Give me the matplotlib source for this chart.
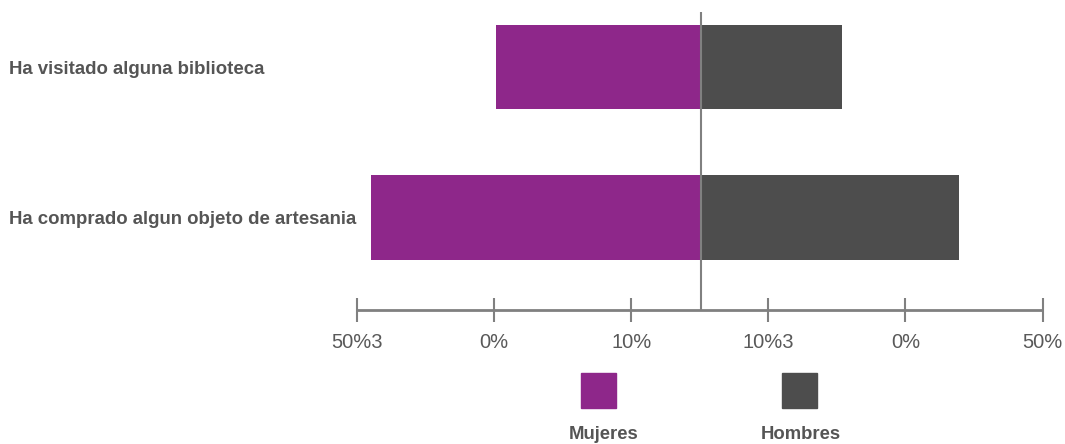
import matplotlib.pyplot as plt
from matplotlib.patches import Rectangle

plt.rcParams['font.family'] = ['Liberation Sans', 'DejaVu Sans']

categorias = ['Ha visitado alguna biblioteca', 'Ha comprado algun objeto de artesania']
mujeres = [29.7, 47.9]
hombres = [20.8, 37.8]
tick_pos = [-50, -30, -10, 10, 30, 50]
tick_labels = ['50%3', '0%', '10%', '10%3', '0%', '50%']
series = ['Mujeres', 'Hombres']
colores = ['#8e278a', '#4d4d4d']

W, H = 1065, 444
fig = plt.figure(figsize=(W / 100, H / 100), dpi=100)

# axes spans full height; x from -50 to 50 maps to px 357..1042.6
ax = fig.add_axes([357 / W, 0, 685.6 / W, 1])
ax.set_xlim(-50, 50)
row0, step = 67, 150.5


def py(p):
    # pixel row -> category units
    return (p - row0) / step


ax.set_ylim(py(H), py(0))

y = list(range(len(categorias)))
ax.barh(y, [-m for m in mujeres], height=84.5 / step, color=colores[0])
ax.barh(y, hombres, height=84.5 / step, color=colores[1])

# center line
ax.vlines(0.2, py(310), py(12), color='#808080', linewidth=1.5, zorder=3)

# bottom axis
ax.hlines(py(310), tick_pos[0], tick_pos[-1], color='#808080', linewidth=2, clip_on=False)
for t, lab in zip(tick_pos, tick_labels):
    ax.vlines(t, py(298), py(322.5), color='#808080', linewidth=1.5, clip_on=False)
    ax.text(t, py(348), lab, ha='center', va='baseline', fontsize=14.5, color='#595959', clip_on=False)

ax.set_yticks(y)
ax.set_yticklabels(categorias, fontsize=13.4, fontweight='bold', color='#555555')
for lab in ax.get_yticklabels():
    lab.set_ha('left')
ax.tick_params(axis='y', length=0, pad=348 * 0.72)
ax.set_xticks([])
for s in ax.spines.values():
    s.set_visible(False)

# legend: squares with labels underneath
leg_x = [581, 782]
leg_txt = [603.7, 800.7]
for i, name in enumerate(series):
    fig.add_artist(Rectangle((leg_x[i] / W, 1 - 407.7 / H), 35 / W, 35 / H,
                             transform=fig.transFigure, color=colores[i]))
    fig.text(leg_txt[i] / W, 1 - 439 / H, name, ha='center', va='baseline',
             fontsize=13.3, fontweight='bold', color='#555555')

fig.savefig('out.png', dpi=100)
